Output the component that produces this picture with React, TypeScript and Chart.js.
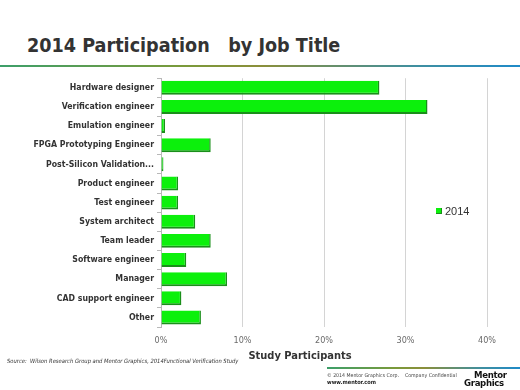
import React, { useEffect, useRef } from "react";
import { Chart, registerables } from "chart.js";

Chart.register(...registerables);

const categories = [
  "Hardware designer",
  "Verification engineer",
  "Emulation engineer",
  "FPGA Prototyping Engineer",
  "Post-Silicon Validation...",
  "Product engineer",
  "Test engineer",
  "System architect",
  "Team leader",
  "Software engineer",
  "Manager",
  "CAD support engineer",
  "Other",
];
const values2014 = [26.8, 32.7, 0.5, 6.1, 0.3, 2.1, 2.1, 4.2, 6.1, 3.1, 8.1, 2.5, 4.9];
const seriesName = "2014";
const xTicks = [0, 10, 20, 30, 40];

const LABEL_FONT = "'DejaVu Sans Condensed', 'DejaVu Sans', sans-serif";

export default function App() {
  const ref = useRef<HTMLCanvasElement | null>(null);

  useEffect(() => {
    document.body.style.margin = "0";
    const canvas = ref.current!;
    const chart = new Chart(canvas, {
      type: "bar",
      data: {
        labels: categories,
        datasets: [
          {
            label: seriesName,
            data: values2014,
            backgroundColor: "#0cf00c",
            borderColor: "#1a8f1a",
            borderWidth: { top: 0, right: 1.5, bottom: 2, left: 0 },
            borderSkipped: false,
            barPercentage: 0.73,
            categoryPercentage: 1,
          },
        ],
      },
      options: {
        indexAxis: "y",
        responsive: false,
        animation: false,
        layout: { padding: { top: 6, right: 33, left: 0, bottom: 0 } },
        plugins: { legend: { display: false }, tooltip: { enabled: false } },
        scales: {
          x: {
            min: 0,
            max: 40,
            afterBuildTicks: (s: any) => {
              s.ticks = xTicks.map((v) => ({ value: v }));
            },
            afterFit: (s: any) => {
              s.height = 25;
            },
            grid: { color: "#d4d4d4", drawTicks: false, lineWidth: 1 },
            border: { display: false },
            ticks: {
              padding: 8,
              color: "#6a6a6a",
              font: { family: LABEL_FONT, size: 9 },
              callback: (v: any) => v + "%",
            },
          },
          y: {
            afterFit: (s: any) => {
              s.width = 161;
            },
            grid: {
              drawOnChartArea: false,
              drawTicks: true,
              tickLength: 4,
              color: "#b8b8b8",
            },
            border: { display: true, color: "#b8b8b8" },
            ticks: {
              padding: 3,
              color: "#333",
              font: { family: LABEL_FONT, size: 8.7, weight: "bold" },
            },
          },
        },
      },
    });
    return () => chart.destroy();
  }, []);

  const grad = "linear-gradient(to right, #3d9f6a 0%, #7a9a3a 35%, #8b8f3a 50%, #3f8fa0 80%, #1f8ac8 100%)";

  return (
    <div
      style={{
        position: "fixed",
        left: 0,
        top: 0,
        width: 520,
        height: 390,
        background: "#fff",
        overflow: "hidden",
        fontFamily: LABEL_FONT,
      }}
    >
      <div
        style={{
          position: "absolute",
          left: 27,
          top: 34,
          fontSize: 19.6,
          fontWeight: "bold",
          color: "#333",
          whiteSpace: "pre",
          lineHeight: "24px",
        }}
      >
        {"2014 Participation   by Job Title"}
      </div>
      <div style={{ position: "absolute", left: 0, top: 65, width: 520, height: 2, background: grad }} />
      <canvas ref={ref} width={520} height={282} style={{ position: "absolute", left: 0, top: 70 }} />
      <div
        style={{
          position: "absolute",
          left: 436,
          top: 208,
          width: 6,
          height: 6,
          background: "#0cf00c",
          borderRight: "1px solid #1a8f1a",
          borderBottom: "1px solid #1a8f1a",
          boxSizing: "border-box",
        }}
      />
      <div
        style={{
          position: "absolute",
          left: 445,
          top: 204,
          fontSize: 11,
          lineHeight: "14px",
          color: "#333",
          fontFamily: "'Liberation Sans', Arial, sans-serif",
        }}
      >
        {seriesName}
      </div>
      <div
        style={{
          position: "absolute",
          left: 200,
          width: 200,
          top: 349,
          textAlign: "center",
          fontSize: 11,
          fontWeight: "bold",
          color: "#333",
          lineHeight: "14px",
        }}
      >
        Study Participants
      </div>
      <div
        style={{
          position: "absolute",
          left: 7,
          top: 358,
          fontSize: 5.8,
          fontStyle: "italic",
          color: "#333",
          whiteSpace: "pre",
          lineHeight: "7px",
        }}
      >
        {"Source:  Wilson Research Group and Mentor Graphics, 2014Functional Verification Study"}
      </div>
      <div style={{ position: "absolute", left: 327, top: 367, width: 193, height: 1.5, background: grad }} />
      <div
        style={{
          position: "absolute",
          left: 327,
          top: 372,
          fontSize: 5.2,
          color: "#444",
          whiteSpace: "pre",
          lineHeight: "7px",
        }}
      >
        {"© 2014 Mentor Graphics Corp.    Company Confidential"}
      </div>
      <div
        style={{
          position: "absolute",
          left: 327,
          top: 379,
          fontSize: 5.6,
          fontWeight: "bold",
          color: "#222",
          lineHeight: "7px",
        }}
      >
        www.mentor.com
      </div>
      <div
        style={{
          position: "absolute",
          left: 464,
          top: 371,
          width: 50,
          fontSize: 9.5,
          fontWeight: "bold",
          color: "#111",
          lineHeight: "8px",
          letterSpacing: -0.3,
        }}
      >
        <div style={{ paddingLeft: 10 }}>Mentor</div>
        <div>Graphics</div>
      </div>
    </div>
  );
}
